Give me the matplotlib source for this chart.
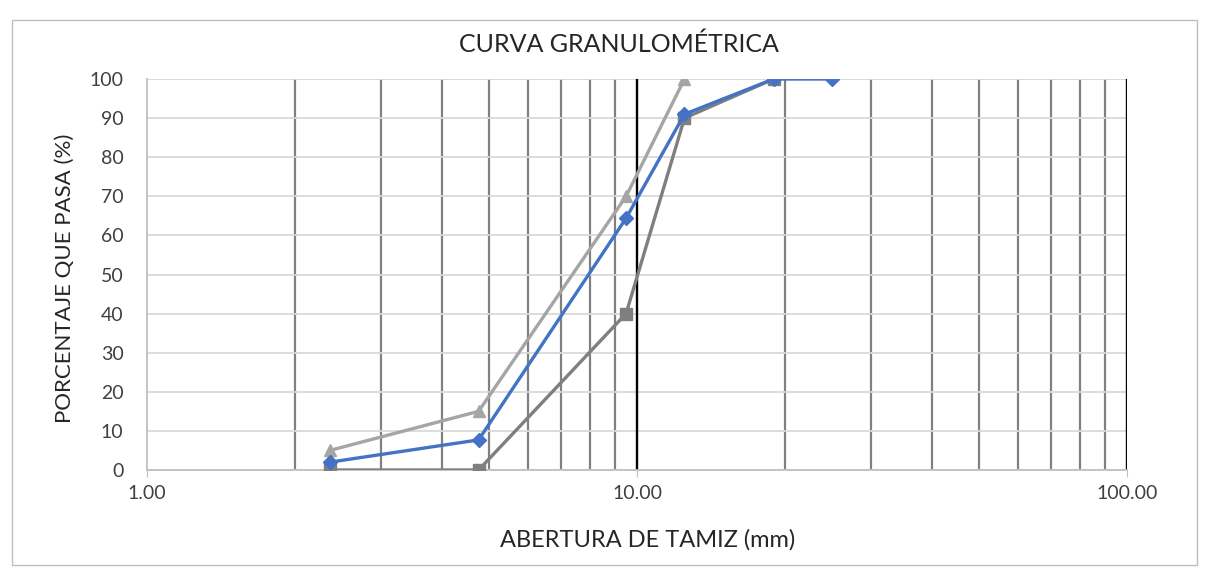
import matplotlib
matplotlib.use("Agg")
import matplotlib.pyplot as plt
from matplotlib.patches import Rectangle
from matplotlib.ticker import FixedLocator, NullFormatter

plt.rcParams["font.family"] = ["Lato", "DejaVu Sans"]

# abertura de tamiz (mm) y porcentaje que pasa
tamiz_muestra = [2.36, 4.75, 9.5, 12.5, 19.0, 25.0]
pasa_muestra = [2.0, 7.7, 64.4, 91.0, 100.0, 100.0]

tamiz_inf = [2.36, 4.75, 9.5, 12.5, 19.0]
pasa_inf = [0.0, 0.0, 40.0, 90.0, 100.0]

tamiz_sup = [2.36, 4.75, 9.5, 12.5]
pasa_sup = [5.0, 15.0, 70.0, 100.0]

x_ticks = [1.0, 10.0, 100.0]
x_labels = ["1.00", "10.00", "100.00"]
x_minor = [2, 3, 4, 5, 6, 7, 8, 9, 20, 30, 40, 50, 60, 70, 80, 90]
y_ticks = list(range(0, 101, 10))

W, H = 1206, 578
fig = plt.figure(figsize=(W / 100, H / 100), dpi=100)

# marco exterior del grafico
fig.patches.append(Rectangle((12 / W, 1 - 565 / H), 1185 / W, 545 / H,
                             transform=fig.transFigure, fill=False,
                             edgecolor="#bfbfbf", lw=1.0))
ax = fig.add_axes([147 / W, 1 - 470 / H, 980 / W, 391 / H])

ax.set_xscale("log")
ax.set_xlim(1, 100)
ax.set_ylim(0, 100)

# rejilla
ax.xaxis.set_minor_locator(FixedLocator(x_minor))
ax.xaxis.set_minor_formatter(NullFormatter())
ax.set_xticks(x_ticks)
ax.set_xticklabels(x_labels)
ax.set_yticks(y_ticks)
ax.grid(axis="y", which="major", color="#d9d9d9", lw=1.3)
ax.grid(axis="x", which="minor", color="#808080", lw=1.6)
for xv in x_ticks[1:]:
    ax.axvline(xv, color="black", lw=1.7, zorder=1.5)
ax.set_axisbelow(True)

for side in ["top", "right"]:
    ax.spines[side].set_visible(False)
for side in ["left", "bottom"]:
    ax.spines[side].set_color("#bfbfbf")
    ax.spines[side].set_linewidth(1.3)

ax.tick_params(axis="x", which="major", length=5, color="#bfbfbf", labelsize=14,
               pad=6, labelcolor="#404040")
ax.tick_params(axis="x", which="minor", length=0)
ax.tick_params(axis="y", length=0, labelsize=14, pad=17, labelcolor="#404040")

ax.plot(tamiz_inf, pasa_inf, color="#7f7f7f", lw=2.4, marker="s", ms=8, zorder=3)
ax.plot(tamiz_sup, pasa_sup, color="#a5a5a5", lw=2.4, marker="^", ms=9, zorder=3)
ax.plot(tamiz_muestra, pasa_muestra, color="#4472c4", lw=2.4, marker="D", ms=7, zorder=4)

fig.text(619 / W, 1 - 44 / H, "CURVA GRANULOMÉTRICA", fontsize=18, color="#262626",
         ha="center", va="center")
fig.text(648 / W, 1 - 540 / H, "ABERTURA DE TAMIZ (mm)", fontsize=17, color="#262626",
         ha="center", va="center")
fig.text(65 / W, 1 - 278 / H, "PORCENTAJE QUE PASA (%)", fontsize=16, color="#262626",
         ha="center", va="center", rotation=90)

fig.savefig("out.png", dpi=100)
